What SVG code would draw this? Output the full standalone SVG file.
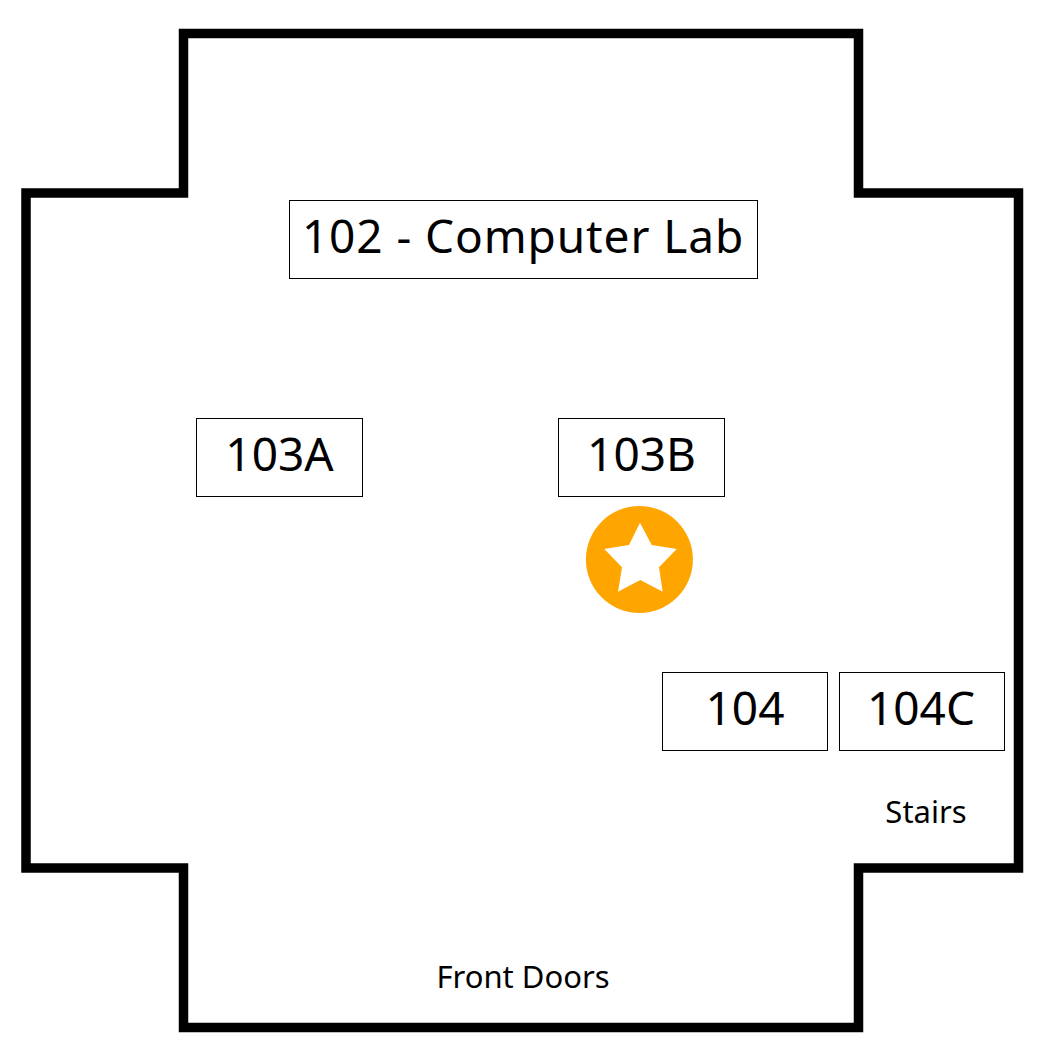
<svg xmlns="http://www.w3.org/2000/svg" width="1049" height="1054" viewBox="0 0 1049 1054">
<style>
.room{fill:#fff;stroke:#000;stroke-width:1}
.t{font-family:"Noto Sans","DejaVu Sans",sans-serif;fill:#000;text-anchor:middle}
.big{font-size:46px}
.small{font-size:31px}
</style>
<rect width="1049" height="1054" fill="#fff"/>
<path id="walls" d="M183.500 33.500H858.500V193H1018.500V868H858.500V1027.500H183.500V868H26V193H183.500Z" fill="#fff" stroke="#000" stroke-width="9.500"/>
<g id="room-102"><rect class="room" x="289.500" y="200.500" width="468" height="78"/><text class="t big" x="523" y="253" letter-spacing="0.9">102 - Computer Lab</text></g>
<g id="room-103A"><rect class="room" x="196.500" y="418.500" width="166" height="78"/><text class="t big" x="279.500" y="471">103A</text></g>
<g id="room-103B"><rect class="room" x="558.500" y="418.500" width="166" height="78"/><text class="t big" x="641.500" y="471">103B</text></g>
<g id="room-104"><rect class="room" x="662.500" y="672.500" width="165" height="78"/><text class="t big" x="745" y="725">104</text></g>
<g id="room-104C"><rect class="room" x="839.500" y="672.500" width="165" height="78"/><text class="t big" x="921" y="725">104C</text></g>
<g id="marker"><circle cx="639.400" cy="559.500" r="53.500" fill="#ffa500"/><polygon points="640,522.700 651.700,545 676.700,549 659,567.300 662.700,591.700 640.300,580 618,591.700 622,567.300 604.300,549 629,545" fill="#fff"/></g>
<g id="stairs"><text class="t small" x="926" y="823">Stairs</text></g>
<g id="front-doors"><text class="t small" x="523" y="988">Front Doors</text></g>
</svg>
